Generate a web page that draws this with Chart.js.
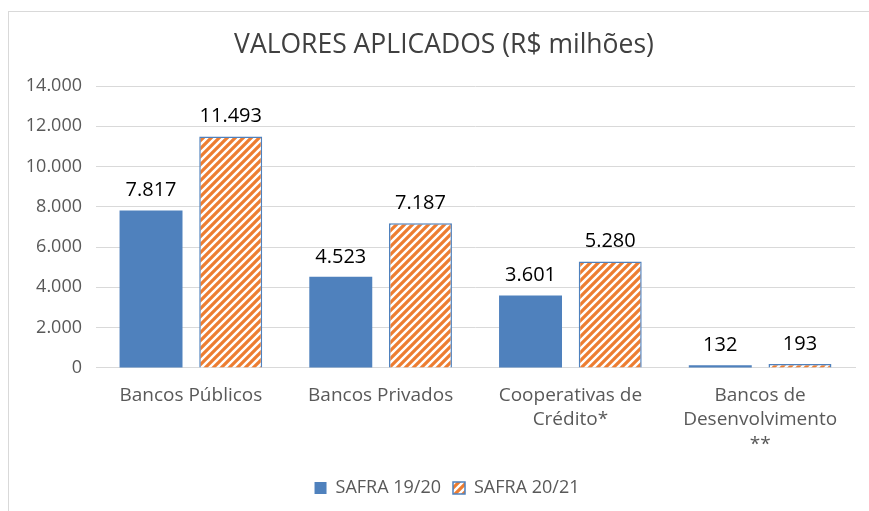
<!DOCTYPE html>
<html>
<head>
<meta charset="utf-8">
<script src="https://cdn.jsdelivr.net/npm/chart.js@4"></script>
<style>
  html, body { margin: 0; padding: 0; background: #fff; }
  #frame {
    position: absolute; left: 8px; top: 11px;
    width: 870px; height: 510px;
    border: 1px solid #d9d9d9;
    box-sizing: border-box;
  }
  #wrap { position: absolute; left: 0; top: 0; width: 861px; height: 499px; }
</style>
</head>
<body>
<div id="frame"><div id="wrap"><canvas id="chart"></canvas></div></div>
<script>
// dados
var chartTitle = 'VALORES APLICADOS (R$ milhões)';
var categories = ['Bancos Públicos', 'Bancos Privados', ['Cooperativas de', 'Crédito*'], ['Bancos de', 'Desenvolvimento', '**']];
var safra1920 = [7817, 4523, 3601, 132];
var safra2021 = [11493, 7187, 5280, 193];
var seriesNames = ['SAFRA 19/20', 'SAFRA 20/21'];
var yTicks = [0, 2000, 4000, 6000, 8000, 10000, 12000, 14000];

var FONT = "'Open Sans', 'Liberation Sans', sans-serif";

function fmt(v) {
    return String(v).replace(/\B(?=(\d{3})+(?!\d))/g, '.');
}

// hachura laranja
function stripes() {
    var c = document.createElement('canvas');
    c.width = 8; c.height = 8;
    var x = c.getContext('2d');
    x.fillStyle = '#fff';
    x.fillRect(0, 0, 8, 8);
    x.strokeStyle = '#ed7d31';
    x.lineWidth = 3.2;
    x.beginPath();
    x.moveTo(-2, 10); x.lineTo(10, -2);
    x.moveTo(-2, 2); x.lineTo(2, -2);
    x.moveTo(6, 10); x.lineTo(10, 6);
    x.stroke();
    return x.createPattern(c, 'repeat');
}

var valueLabels = {
    id: 'valueLabels',
    afterDatasetsDraw: function (chart) {
        var ctx = chart.ctx;
        ctx.save();
        ctx.font = '20px ' + FONT;
        ctx.fillStyle = '#000';
        ctx.textAlign = 'center';
        ctx.textBaseline = 'bottom';
        chart.data.datasets.forEach(function (ds, i) {
            chart.getDatasetMeta(i).data.forEach(function (bar, j) {
                ctx.fillText(fmt(ds.data[j]), bar.x, bar.y - 10);
            });
        });
        ctx.restore();
    }
};

// titulo desenhado a mao (centro um pouco a direita)
var titlePlugin = {
    id: 'titlePlugin',
    afterLayout: function (chart) {
        // legenda tambem fica um pouco a direita
        chart.legend.left += 15;
        chart.legend.right += 15;
    },
    afterDraw: function (chart) {
        var ctx = chart.ctx;
        ctx.save();
        ctx.font = '26.5px ' + FONT;
        ctx.fillStyle = '#404040';
        ctx.textAlign = 'center';
        ctx.textBaseline = 'middle';
        ctx.fillText(chartTitle, 435, 33);
        ctx.restore();
    }
};

var ctx = document.getElementById('chart').getContext('2d');
var pat = stripes();

new Chart(ctx, {
    type: 'bar',
    data: {
        labels: categories,
        datasets: [{
            label: seriesNames[0],
            data: safra1920,
            backgroundColor: '#4f81bd',
            borderWidth: 0
        }, {
            label: seriesNames[1],
            data: safra2021,
            backgroundColor: pat,
            borderColor: '#4f81bd',
            borderWidth: 1.5
        }]
    },
    options: {
        responsive: true,
        maintainAspectRatio: false,
        animation: false,
        layout: { padding: { left: 0, right: 15, top: 74, bottom: 4 } },
        datasets: { bar: { categoryPercentage: 0.84, barPercentage: 0.79 } },
        plugins: {
            title: { display: false },
            legend: {
                position: 'bottom',
                labels: {
                    color: '#595959',
                    font: { family: FONT, size: 18 },
                    boxWidth: 12,
                    boxHeight: 12,
                    padding: 12
                }
            },
            tooltip: { enabled: false }
        },
        scales: {
            x: {
                grid: { display: false },
                border: { color: '#d9d9d9', width: 1 },
                ticks: {
                    color: '#595959',
                    font: { family: FONT, size: 19, lineHeight: 1.3 },
                    maxRotation: 0,
                    padding: 7
                },
                afterFit: function (axis) { axis.height += 3; }
            },
            y: {
                min: 0,
                max: 14000,
                afterBuildTicks: function (axis) {
                    axis.ticks = yTicks.map(function (v) { return { value: v }; });
                },
                afterFit: function (axis) { axis.width = 87; },
                grid: { color: '#d9d9d9', drawTicks: false },
                border: { display: false },
                ticks: {
                    color: '#595959',
                    font: { family: FONT, size: 18 },
                    padding: 14,
                    callback: function (v) { return fmt(v); }
                }
            }
        }
    },
    plugins: [valueLabels, titlePlugin]
});
</script>
</body>
</html>
